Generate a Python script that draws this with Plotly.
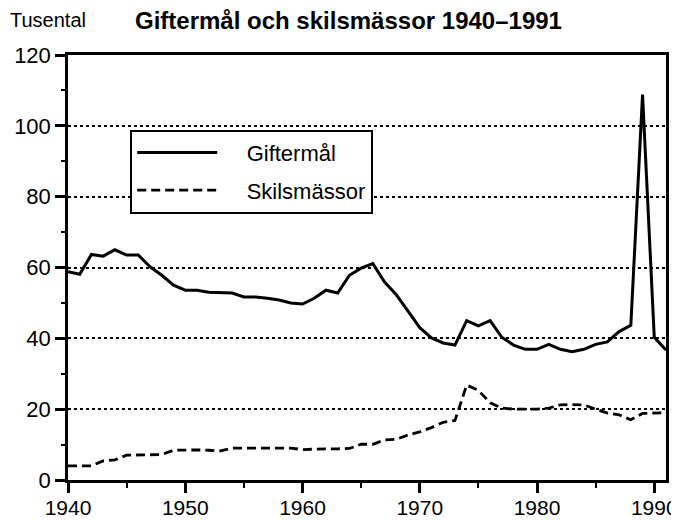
import plotly.graph_objects as go

YEARS = list(range(1940, 1992))

GIFTERMAL = [
    58.8, 58.1, 63.7, 63.2, 65.0, 63.5, 63.5, 60.2, 57.8, 55.0,
    53.6, 53.6, 53.0, 52.8, 52.8, 51.7, 51.7, 51.3, 50.8, 50.0,
    49.7, 51.3, 53.6, 52.8, 57.8, 59.8, 61.1, 55.9, 52.3, 47.7,
    43.0, 40.1, 38.7, 38.1, 45.0, 43.5, 45.0, 40.3, 38.1, 36.9,
    36.9, 38.3, 36.9, 36.2, 36.9, 38.3, 39.0, 41.9, 43.7, 108.8,
    40.3, 36.7,
]

SKILSMASSOR = [
    4.0, 4.0, 4.0, 5.4, 5.7, 7.0, 7.1, 7.1, 7.2, 8.4,
    8.5, 8.5, 8.4, 8.2, 9.0, 9.0, 9.0, 9.0, 9.0, 9.0,
    8.6, 8.8, 8.8, 8.8, 8.9, 10.1, 10.1, 11.3, 11.5, 12.7,
    13.6, 14.8, 16.3, 16.8, 26.8, 25.3, 21.8, 20.3, 20.0, 20.0,
    20.0, 20.3, 21.2, 21.3, 21.2, 20.0, 18.9, 18.4, 17.0, 18.8,
    19.0, 19.0,
]

FONT = "Liberation Sans, Arial, Helvetica, sans-serif"
INK = "black"
PAD = "\u00a0" * 4  # gap between legend sample and its label

# the page body has an 8px margin, so the figure is drawn 8px in from the top-left
W, H = 671, 512

fig = go.Figure()
fig.add_trace(go.Scatter(
    x=YEARS, y=GIFTERMAL, name=PAD + "Giftermål", mode="lines",
    line=dict(color=INK, width=3), legendgroup="a",
))
fig.add_trace(go.Scatter(
    x=YEARS, y=SKILSMASSOR, name=PAD + "Skilsmässor", mode="lines",
    line=dict(color=INK, width=2.8, dash="9px,5px"), legendgroup="b",
))

fig.update_layout(
    width=W, height=H,
    paper_bgcolor="white", plot_bgcolor="white",
    font=dict(family=FONT, size=22, color=INK),
    margin=dict(l=60, r=13, t=47, b=40),
    title=dict(text="<b>Giftermål och skilsmässor 1940–1991</b>",
               x=127 / W, xanchor="left", y=1 - 13 / H, yanchor="middle",
               font=dict(size=24, family=FONT, color=INK)),
    legend=dict(x=0.104, y=0.824, xanchor="left", yanchor="top",
                bordercolor=INK, borderwidth=2, bgcolor="white",
                font=dict(size=22, family=FONT, color=INK),
                itemwidth=80, tracegroupgap=6),
    showlegend=True,
)
fig.add_annotation(text="Tusental", xref="paper", yref="paper",
                   x=(8 - 68) / 598, y=(480 - 20) / 425, xanchor="left", yanchor="middle",
                   showarrow=False, font=dict(size=20, family=FONT, color=INK))

fig.update_xaxes(
    range=[1940, 1991], dtick=10, tick0=1940, automargin=False,
    ticks="outside", ticklen=10, tickwidth=2.5, tickcolor=INK,
    tickfont=dict(size=21, family=FONT, color=INK), ticklabelstandoff=-3,
    minor=dict(dtick=5, tick0=1940, ticks="outside", ticklen=5, tickwidth=2, tickcolor=INK),
    showline=True, linecolor=INK, linewidth=2.5, mirror=True,
    showgrid=False, zeroline=False,
)
fig.update_yaxes(
    range=[0, 120], dtick=20, automargin=False,
    ticks="outside", ticklen=10, tickwidth=2.5, tickcolor=INK,
    tickfont=dict(size=22, family=FONT, color=INK),
    minor=dict(dtick=10, ticks="outside", ticklen=4, tickwidth=2, tickcolor=INK, showgrid=False),
    showline=True, linecolor=INK, linewidth=2.5, mirror=True,
    showgrid=True, gridcolor=INK, gridwidth=1.5, griddash="dot",
    zeroline=False,
)

fig.write_html("out.html")
